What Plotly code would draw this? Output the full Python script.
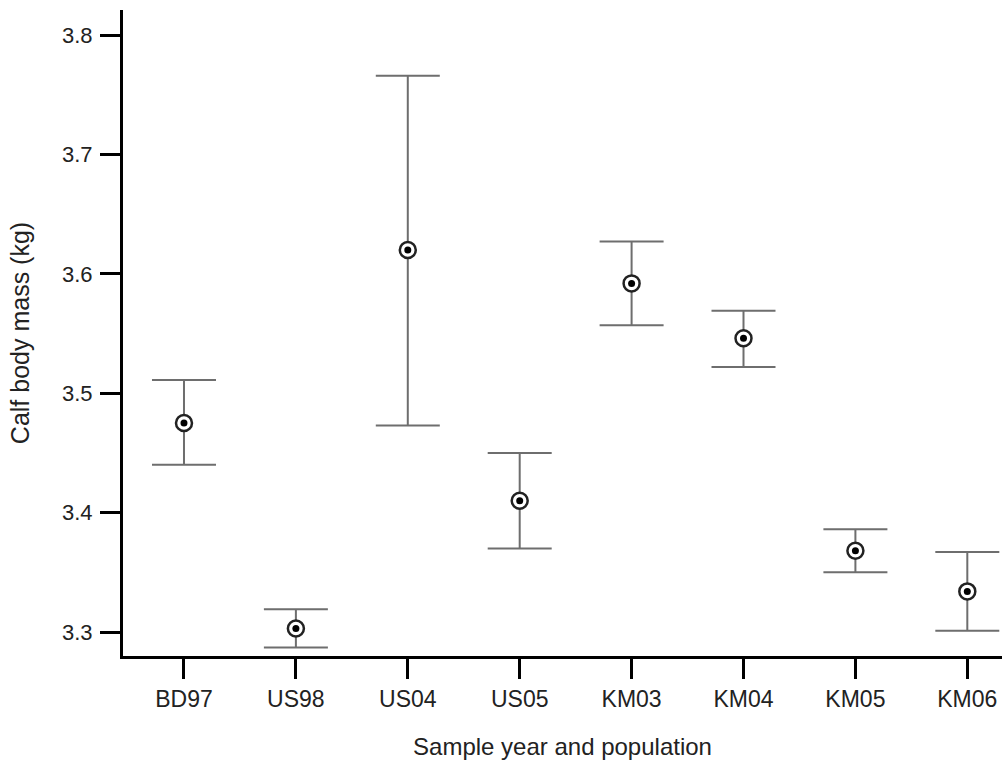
import plotly.graph_objects as go

categories = ["BD97", "US98", "US04", "US05", "KM03", "KM04", "KM05", "KM06"]
means = [3.475, 3.303, 3.620, 3.410, 3.592, 3.546, 3.368, 3.334]
upper = [3.511, 3.319, 3.766, 3.450, 3.627, 3.569, 3.386, 3.367]
lower = [3.440, 3.287, 3.473, 3.370, 3.557, 3.522, 3.350, 3.301]
y_ticks = [3.3, 3.4, 3.5, 3.6, 3.7, 3.8]

err_plus = [u - m for u, m in zip(upper, means)]
err_minus = [m - l for m, l in zip(means, lower)]
xidx = list(range(len(categories)))

FONT = "Liberation Sans, Arial, Helvetica, sans-serif"

fig = go.Figure()
fig.add_trace(go.Scatter(
    x=xidx, y=means, mode="markers",
    marker=dict(symbol="circle", size=16, color="white",
                line=dict(color="#222222", width=2.5)),
    error_y=dict(type="data", symmetric=False, array=err_plus, arrayminus=err_minus,
                 color="#6e6e6e", thickness=2, width=32),
    showlegend=False, hoverinfo="skip",
))
fig.add_trace(go.Scatter(
    x=xidx, y=means, mode="markers",
    marker=dict(symbol="circle", size=7, color="black", line=dict(width=0)),
    showlegend=False,
))

fig.update_layout(
    width=1002, height=773,
    margin=dict(l=123, r=0, t=10, b=117),
    paper_bgcolor="white", plot_bgcolor="white",
    font=dict(family=FONT, size=23, color="#222222"),
)
fig.update_xaxes(
    range=[-0.545, 7.31], tickmode="array", tickvals=xidx, ticktext=categories,
    showgrid=False, zeroline=False, showline=True, linecolor="black", linewidth=3,
    ticks="outside", ticklen=20, tickwidth=2.5, tickcolor="black",
    tickfont=dict(size=23),
    title=dict(text="Sample year and population", font=dict(size=24), standoff=28),
)
fig.update_yaxes(
    range=[3.2799, 3.821], tickmode="array", tickvals=y_ticks,
    ticktext=[f"{v:.1f}" for v in y_ticks],
    showgrid=False, zeroline=False, showline=True, linecolor="black", linewidth=3,
    ticks="outside", ticklen=20, tickwidth=2.5, tickcolor="black",
    tickfont=dict(size=22), ticklabelstandoff=3,
    title=dict(text="Calf body mass (kg)", font=dict(size=25), standoff=26),
)

fig.write_html("out.html")
